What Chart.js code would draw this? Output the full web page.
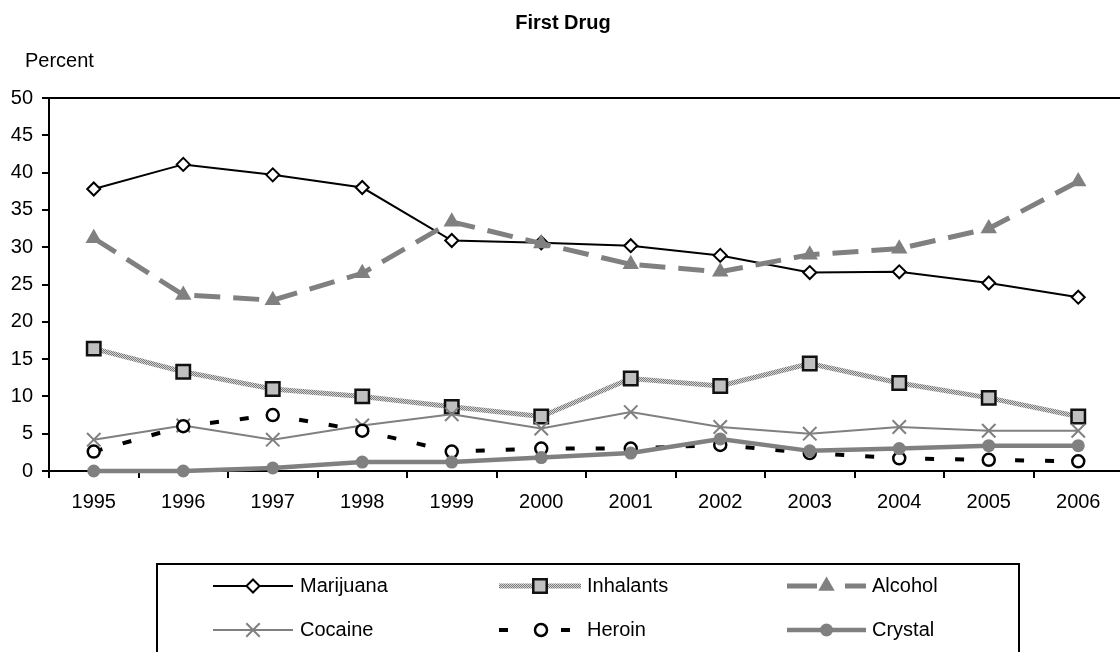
<!DOCTYPE html>
<html>
<head>
<meta charset="utf-8">
<script src="https://cdn.jsdelivr.net/npm/chart.js"></script>
<style>
  html, body { margin: 0; padding: 0; background: #fff; overflow: hidden; }
  #wrap { width: 1120px; height: 652px; overflow: hidden; }
</style>
</head>
<body>
<div id="wrap"><canvas id="chart" width="1135" height="652"></canvas></div>
<script>
// values
var years = ['1995', '1996', '1997', '1998', '1999', '2000', '2001', '2002', '2003', '2004', '2005', '2006'];
var marijuana = [37.8, 41.1, 39.7, 38.0, 30.9, 30.6, 30.2, 28.9, 26.6, 26.7, 25.2, 23.3];
var inhalants = [16.4, 13.3, 11.0, 10.0, 8.6, 7.3, 12.4, 11.4, 14.4, 11.8, 9.8, 7.3];
var alcohol = [31.2, 23.6, 22.9, 26.5, 33.4, 30.5, 27.7, 26.7, 29.0, 29.8, 32.5, 38.8];
var cocaine = [4.2, 6.1, 4.2, 6.1, 7.6, 5.7, 7.9, 5.9, 5.0, 5.9, 5.4, 5.4];
var heroin = [2.6, 6.0, 7.5, 5.4, 2.6, 3.0, 3.0, 3.5, 2.4, 1.7, 1.5, 1.3];
var crystal = [0, 0, 0.4, 1.2, 1.2, 1.8, 2.4, 4.3, 2.7, 3.0, 3.4, 3.4];
var yTicks = [0, 5, 10, 15, 20, 25, 30, 35, 40, 45, 50];

var FONT = '"Liberation Sans", Arial, sans-serif';

// speckled grey stroke for the inhalants line
function speckle() {
    var c = document.createElement('canvas');
    c.width = 2; c.height = 2;
    var g = c.getContext('2d');
    g.fillStyle = '#d6d6d6';
    g.fillRect(0, 0, 2, 2);
    g.fillStyle = '#7a7a7a';
    g.fillRect(0, 0, 1, 1);
    g.fillRect(1, 1, 1, 1);
    return g.createPattern(c, 'repeat');
}

var series = [
    { label: 'Marijuana', data: marijuana, borderColor: '#000', borderWidth: 2, borderDash: [],
      pointStyle: 'rectRot', pointRadius: 6.5, pointBackgroundColor: '#fff', pointBorderColor: '#000', pointBorderWidth: 2 },
    { label: 'Inhalants', data: inhalants, borderColor: speckle(), borderWidth: 5, borderDash: [],
      pointStyle: 'rect', pointRadius: 9.5, pointBackgroundColor: '#c0c0c0', pointBorderColor: '#111', pointBorderWidth: 2.5 },
    { label: 'Alcohol', data: alcohol, borderColor: '#808080', borderWidth: 5, borderDash: [26, 13], legendDash: [30, 28, 22, 100],
      pointStyle: 'triangle', pointRadius: 9.5, pointBackgroundColor: '#808080', pointBorderColor: '#808080', pointBorderWidth: 0 },
    { label: 'Cocaine', data: cocaine, borderColor: '#808080', borderWidth: 2, borderDash: [],
      pointStyle: 'crossRot', pointRadius: 9.5, pointBackgroundColor: '#808080', pointBorderColor: '#808080', pointBorderWidth: 2 },
    { label: 'Heroin', data: heroin, borderColor: '#000', borderWidth: 4, borderDash: [9, 21], legendDash: [9, 53],
      pointStyle: 'circle', pointRadius: 6, pointBackgroundColor: '#fff', pointBorderColor: '#000', pointBorderWidth: 2.5 },
    { label: 'Crystal', data: crystal, borderColor: '#808080', borderWidth: 4.5, borderDash: [],
      pointStyle: 'circle', pointRadius: 6.5, pointBackgroundColor: '#808080', pointBorderColor: '#808080', pointBorderWidth: 0 }
];

var datasets = series.map(function (s, i) {
    return Object.assign({ tension: 0, fill: false, clip: false, order: series.length - i, pointHoverRadius: s.pointRadius }, s);
});

// title, "Percent", plot frame and boxed legend
var decorations = {
    id: 'decorations',
    afterDraw: function (chart) {
        var ctx = chart.ctx, a = chart.chartArea;
        ctx.save();
        ctx.fillStyle = '#000';
        ctx.textBaseline = 'alphabetic';
        ctx.font = 'bold 20px ' + FONT;
        ctx.textAlign = 'center';
        ctx.fillText('First Drug', 563, 29);
        ctx.font = '20px ' + FONT;
        ctx.textAlign = 'left';
        ctx.fillText('Percent', 25, 67);

        ctx.strokeStyle = '#000';
        ctx.lineWidth = 2;
        ctx.beginPath();
        ctx.moveTo(a.left, a.top);
        ctx.lineTo(a.right, a.top);
        ctx.lineTo(a.right, a.bottom);
        ctx.stroke();

        // legend box
        ctx.lineWidth = 2;
        ctx.strokeRect(157, 564, 862, 100);

        var cols = [[213, 293, 300], [499, 581, 587], [787, 866, 872]];
        var rows = [586, 630];
        chart.data.datasets.forEach(function (ds, i) {
            var c = cols[i % 3], y = rows[Math.floor(i / 3)];
            ctx.save();
            ctx.strokeStyle = ds.borderColor;
            ctx.lineWidth = ds.borderWidth;
            ctx.setLineDash(ds.legendDash || ds.borderDash || []);
            ctx.beginPath();
            ctx.moveTo(c[0], y);
            ctx.lineTo(c[1], y);
            ctx.stroke();
            ctx.setLineDash([]);
            ctx.fillStyle = ds.pointBackgroundColor;
            ctx.strokeStyle = ds.pointBorderColor;
            ctx.lineWidth = ds.pointBorderWidth;
            Chart.helpers.drawPoint(ctx, {
                pointStyle: ds.pointStyle, radius: ds.pointRadius, rotation: 0, borderWidth: ds.pointBorderWidth
            }, (c[0] + c[1]) / 2 + (i === 4 ? 1 : 0), y);
            ctx.restore();
            ctx.fillStyle = '#000';
            ctx.font = '20px ' + FONT;
            ctx.textAlign = 'left';
            ctx.textBaseline = 'middle';
            ctx.fillText(ds.label, c[2], y);
        });
        ctx.restore();
    }
};

var ctx = document.getElementById('chart').getContext('2d');
new Chart(ctx, {
    type: 'line',
    data: { labels: years, datasets: datasets },
    plugins: [decorations],
    options: {
        responsive: false,
        animation: false,
        devicePixelRatio: 1,
        layout: { padding: { top: 98, left: 0, right: 6, bottom: 141 } },
        plugins: { legend: { display: false }, title: { display: false }, tooltip: { enabled: false } },
        scales: {
            x: {
                type: 'category',
                offset: true,
                afterFit: function (s) { s.height = 40; },
                grid: { display: true, offset: true, drawOnChartArea: false, drawTicks: true, tickLength: 7, color: '#000', lineWidth: 2 },
                border: { display: true, color: '#000', width: 2 },
                ticks: { color: '#000', font: { family: FONT, size: 20 }, padding: 12, maxRotation: 0, autoSkip: false }
            },
            y: {
                min: 0,
                max: 50,
                afterFit: function (s) { s.width = 49; },
                afterBuildTicks: function (s) { s.ticks = yTicks.map(function (v) { return { value: v }; }); },
                grid: { display: true, drawOnChartArea: false, drawTicks: true, tickLength: 7, color: '#000', lineWidth: 2 },
                border: { display: true, color: '#000', width: 2 },
                ticks: { color: '#000', font: { family: FONT, size: 20 }, padding: 9 }
            }
        }
    }
});
</script>
</body>
</html>
